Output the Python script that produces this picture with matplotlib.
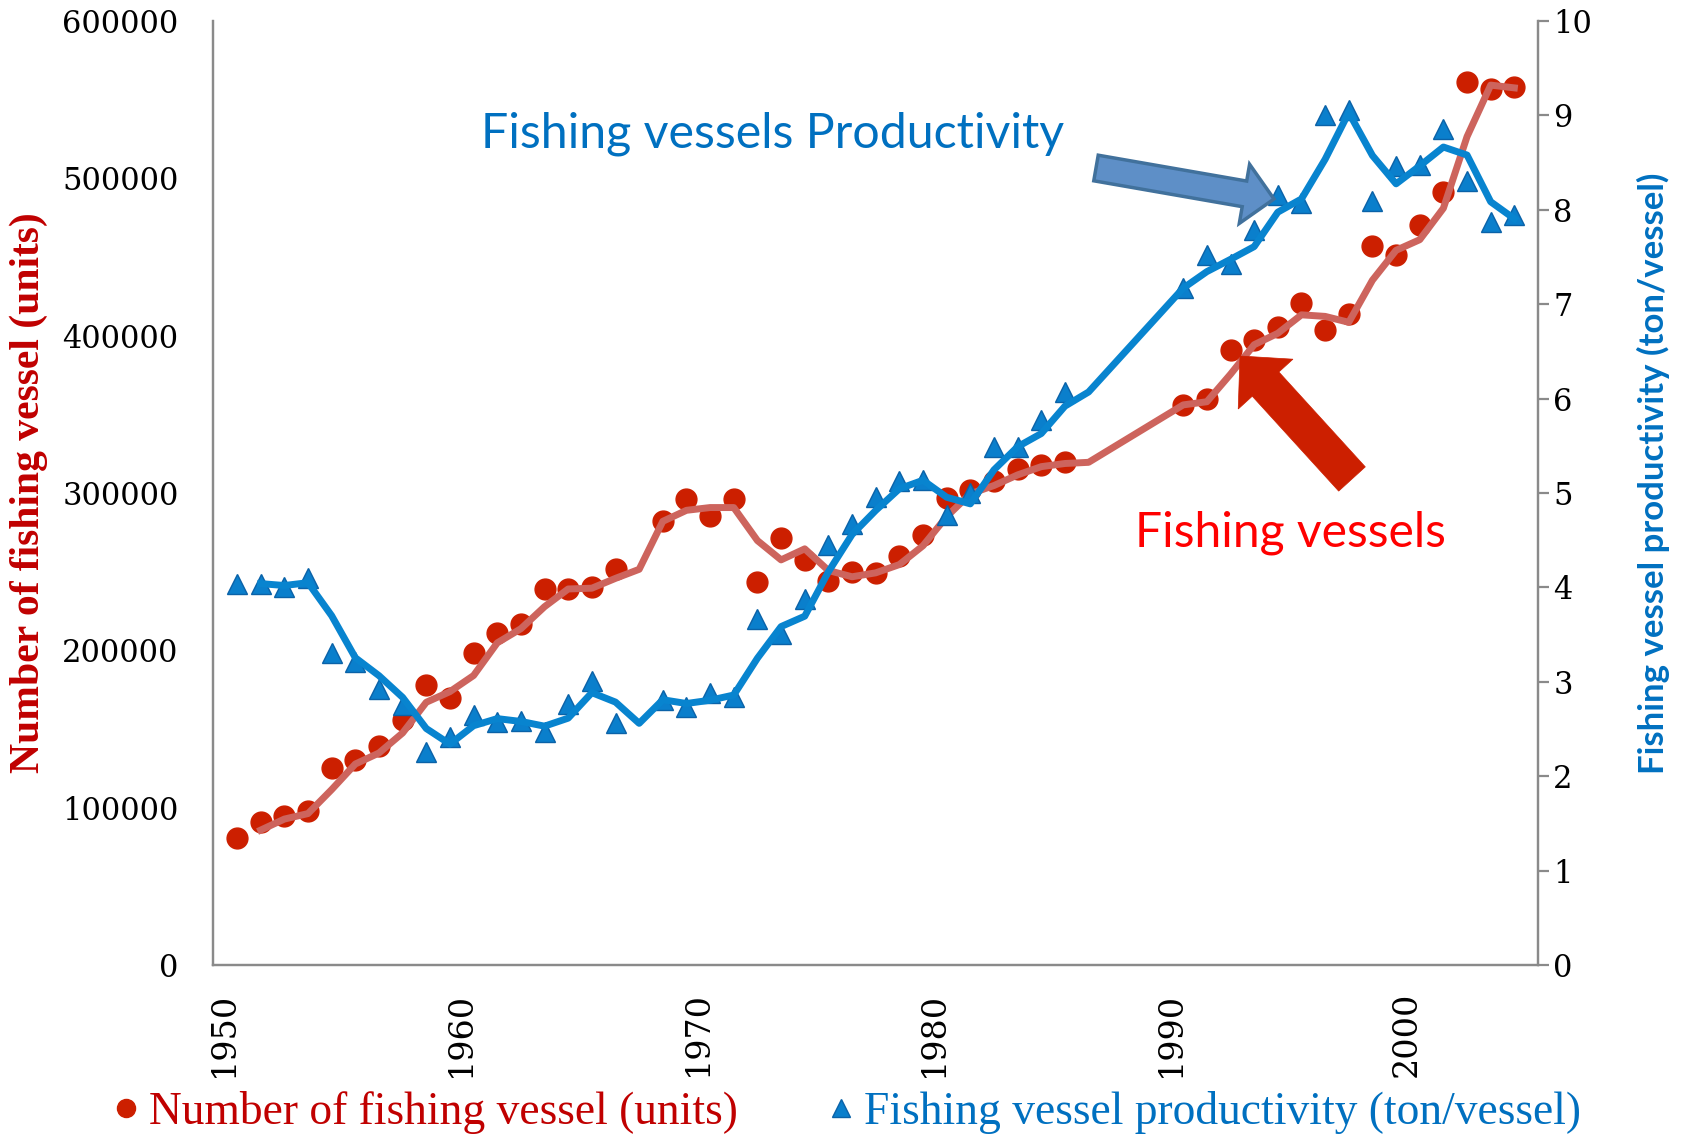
import numpy as np
import pandas as pd
import matplotlib
matplotlib.use("Agg")
import matplotlib.pyplot as plt
import matplotlib.transforms as mtransforms
from matplotlib.patches import FancyArrow
from matplotlib.lines import Line2D

# ---------------- data ----------------
years = list(range(1951, 2006))
vessels = [80500, 91000, 94500, 98000, 125000, 130500, 139000, 156000, 178000, 169500,
           198500, 211000, 216500, 239000, 239000, 240000, 251500, np.nan, 282000, 296000,
           285500, 296000, 243500, 271500, 257500, 244000, 249500, 249000, 260000, 273000,
           297000, 302000, 307500, 315500, 318000, 319500, np.nan, np.nan, np.nan, np.nan,
           356000, 360000, 391000, 397500, 405500, 421000, 403500, 413500, 457000, 451500,
           470500, 491500, 561500, 557000, 558000]
productivity = [4.04, 4.04, 4.00, 4.10, 3.30, 3.21, 2.92, 2.75, 2.26, 2.42,
                2.65, 2.57, 2.59, 2.47, 2.76, 3.01, 2.56, np.nan, 2.81, 2.73,
                2.88, 2.84, 3.66, 3.51, 3.88, 4.45, 4.67, 4.96, 5.13, 5.14,
                4.77, 5.00, 5.49, 5.49, 5.77, 6.07, np.nan, np.nan, np.nan, np.nan,
                7.17, 7.52, 7.43, 7.79, 8.16, 8.07, 9.00, 9.06, 8.09, 8.46,
                8.47, 8.86, 8.30, 7.87, 7.94]
x_ticks = [1950, 1960, 1970, 1980, 1990, 2000]
x_ticklabels = ["1950", "1960", "1970", "1980", "1990", "2000"]
left_ticks = [0, 100000, 200000, 300000, 400000, 500000, 600000]
left_ticklabels = ["0", "100000", "200000", "300000", "400000", "500000", "600000"]
right_ticks = list(range(0, 11))
right_ticklabels = [str(t) for t in right_ticks]
label_vessels = "Number of fishing vessel (units)"
label_prod = "Fishing vessel productivity (ton/vessel)"

# ---------------- style ----------------
RED = "#CC1F00"
RED_LINE = "#CD645D"
BLUE = "#0A7FCC"
BLUE_LINE = "#0884CF"
GRAY = "#8A8A8A"
W, H = 1690, 1136
SERIF = ["Liberation Serif", "DejaVu Serif"]
TICKSERIF = ["DejaVu Serif"]
SANS = ["Lato", "DejaVu Sans"]

fig = plt.figure(figsize=(W / 100, H / 100), dpi=100)
x0, x1, y0, y1 = 213.4, 1538.0, 21.0, 965.0
ax = fig.add_axes([x0 / W, 1 - y1 / H, (x1 - x0) / W, (y1 - y0) / H])
ax2 = ax.twinx()

yrs = np.array(years)
v = np.array(vessels, dtype=float)
p = np.array(productivity, dtype=float)

# markers
ax.plot(yrs, v, "o", color=RED, ms=15, mec=RED, zorder=2)
# 2-period moving average trendline
vma = pd.Series(v).rolling(2, min_periods=1).mean().to_numpy()
mv = ~np.isnan(vma); mv[0] = False
ax.plot(yrs[mv], vma[mv], color=RED_LINE, lw=5, zorder=3)

ax2.plot(yrs, p, "^", color=BLUE, ms=15, mec="#0A62A8", mew=1, zorder=2)
pma = pd.Series(p).rolling(2, min_periods=1).mean().to_numpy()
mp = ~np.isnan(pma); mp[0] = False
ax2.plot(yrs[mp], pma[mp], color=BLUE_LINE, lw=5, zorder=3)

ax.set_xlim(1950, 2006)
ax.set_ylim(0, 600000)
ax2.set_ylim(0, 10)

for a in (ax, ax2):
    a.spines["top"].set_visible(False)
    for s in ("left", "right", "bottom"):
        a.spines[s].set_color(GRAY)
        a.spines[s].set_linewidth(1.6)

ax.set_yticks(left_ticks)
ax.set_yticklabels(left_ticklabels, fontsize=22, family=TICKSERIF)
ax.tick_params(axis="y", length=0, pad=25)
ax2.set_yticks(right_ticks)
ax2.set_yticklabels(right_ticklabels, fontsize=22, family=TICKSERIF)
ax2.tick_params(axis="y", length=8, width=1.6, color=GRAY, pad=3)

ax.set_xticks(x_ticks)
ax.set_xticklabels(x_ticklabels, fontsize=24, family=TICKSERIF, rotation=90, va="top", ha="center")
ax.tick_params(axis="x", length=0, pad=19)
off = mtransforms.ScaledTranslation(11 / 100, 0, fig.dpi_scale_trans)
for lab in ax.get_xticklabels():
    lab.set_transform(lab.get_transform() + off)

fig.canvas.draw()
R = fig.canvas.get_renderer()


def fit(t, target, dim="w"):
    bb = t.get_window_extent(R)
    cur = bb.width if dim == "w" else bb.height
    t.set_fontsize(t.get_fontsize() * target / cur)


# axis titles (figure coordinates from pixels)
tl = fig.text(29 / W, 1 - 493 / H, label_vessels, rotation=90, ha="center", va="center",
              color="#C00000", fontweight="bold", family=SERIF, fontsize=20)
fit(tl, 562, "h")
tr = fig.text(1653 / W, 1 - 473 / H, label_prod, rotation=90, ha="center", va="center",
              color="#0070C0", fontweight="bold", family=SANS, fontsize=20)
fit(tr, 602, "h")

# annotation texts
t1 = fig.text(481 / W, 1 - 148 / H, "Fishing vessels Productivity", ha="left", va="baseline",
              color="#0070C0", family=SANS, fontsize=30)
fit(t1, 583)
t2 = fig.text(1135 / W, 1 - 546 / H, "Fishing vessels", ha="left", va="baseline",
              color="#FF0000", family=SANS, fontsize=30)
fit(t2, 311)

# block arrows in pixel coordinates
ident = mtransforms.IdentityTransform()
bt, btip = (1096, H - 168), (1274, H - 199)
fig.add_artist(FancyArrow(bt[0], bt[1], btip[0] - bt[0], btip[1] - bt[1], width=26,
                          head_width=60, head_length=30, length_includes_head=True,
                          facecolor="#5E8FC7", edgecolor="#41719C", lw=2.5,
                          transform=ident, zorder=10))
rt, rtip = (1352, H - 479), (1240, H - 356)
fig.add_artist(FancyArrow(rt[0], rt[1], rtip[0] - rt[0], rtip[1] - rt[1], width=36,
                          head_width=74, head_length=38, length_includes_head=True,
                          facecolor=RED, edgecolor=RED, lw=0.5,
                          transform=ident, zorder=10))

# legend
tmp = fig.text(0, 0, label_vessels, family=SERIF, fontsize=20)
bw = tmp.get_window_extent(R).width
tmp.remove()
fs = 20 * 590 / bw
F = fs * 100 / 72
hl = 0.7
htp = (23 - hl * F / 2) / F
cs = ((842 - hl * F / 2) - (149 + 590)) / F
handles = [Line2D([], [], ls="none", marker="o", color=RED, ms=13),
           Line2D([], [], ls="none", marker="^", color=BLUE, mec="#0A62A8", ms=13)]
leg = fig.legend(handles, [label_vessels, label_prod], loc="center left",
                 bbox_to_anchor=((126 - hl * F / 2) / W, 1 - 1112 / H),
                 bbox_transform=fig.transFigure, ncol=2, frameon=False,
                 prop={"family": SERIF, "size": fs}, handlelength=hl,
                 handletextpad=htp, columnspacing=cs, borderpad=0, borderaxespad=0)
leg.get_texts()[0].set_color("#C00000")
leg.get_texts()[1].set_color("#0070C0")

fig.savefig("out.png", dpi=100)
